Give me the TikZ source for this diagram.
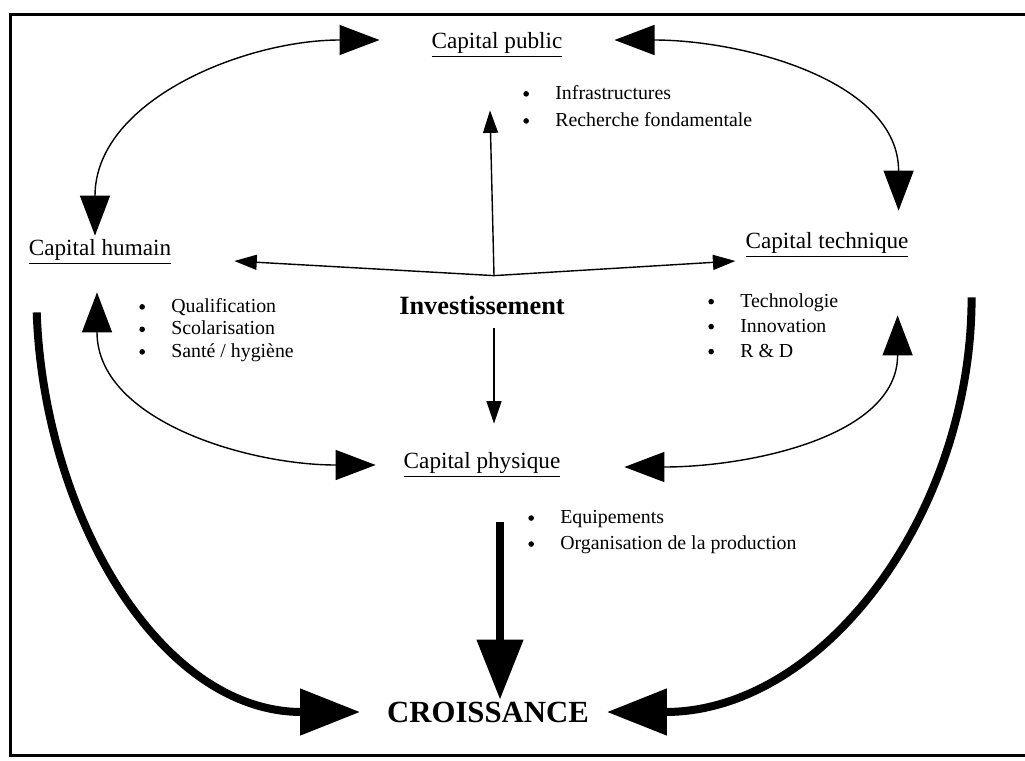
\documentclass[tikz,border=0pt]{standalone}
\usepackage{fontspec}
\setmainfont{Liberation Serif}
\usetikzlibrary{arrows.meta, calc, positioning}
\tikzset{
    capital/.style={
        font=\fontsize{13.2}{15}\selectfont,
        inner sep=1pt
    },
    items/.style={
        anchor=north west,
        align=left,
        inner sep=0pt,
        font=\fontsize{11.3}{#1}\selectfont
    },
    items/.default=15pt,
    link/.style={
        line width=0.8pt,
        {Triangle[length=8mm,width=6mm]}-{Triangle[length=8mm,width=6mm]}
    },
    invest/.style={
        line width=0.8pt,
        -{Triangle[length=4.5mm,width=3mm]}
    },
    growth/.style={
        line width=1.6mm,
        -{Triangle[length=12mm,width=9mm]}
    },
    frame/.style={
        line width=0.6mm
    }
}
\newcommand{\itm}[1]{\makebox[6.4mm][l]{\tikz[baseline=-0.6ex]\fill (0,0) circle (1.6pt);}#1}

\begin{document}
\begin{tikzpicture}[x=0.2mm, y=-0.2mm]
\useasboundingbox (0,0) rectangle (1025,760);
\draw[frame] (1025,14) -- (10,14) -- (10,755) -- (1025,755);

\node[capital] (pub) at (497,45) {\underline{Capital public}};
\node[capital] (hum) at (100,252) {\underline{Capital humain}};
\node[capital] (tech) at (827,245) {\underline{Capital technique}};
\node[capital] (phys) at (482,465) {\underline{Capital physique}};
\node[inner sep=1pt, font=\fontsize{15}{18}\selectfont\bfseries] (inv) at (482,305) {Investissement};
\node[inner sep=1pt, font=\fontsize{17.5}{20}\selectfont\bfseries] (croi) at (488,712) {CROISSANCE};

% listes
\node[items=15.4pt] (pubitems) at (523,85) {\itm{Infrastructures}\\\itm{Recherche fondamentale}};
\node[items=12.8pt] (humitems) at (139,298) {\itm{Qualification}\\\itm{Scolarisation}\\\itm{Santé / hygiène}};
\node[items=14.2pt] (techitems) at (708,293) {\itm{Technologie}\\\itm{Innovation}\\\itm{R \& D}};
\node[items=14.8pt] (physitems) at (528,510) {\itm{Equipements}\\\itm{Organisation de la production}};

% liens entre capitaux
\draw[link] ($(pub.west)+(-50,-5)$) to[out=180, in=90] ($(hum.north)+(-5,-2)$);
\draw[link] ($(pub.east)+(50,-5)$) to[out=0, in=90] ($(tech.north east)+(-12,-20)$);
\draw[link] ($(hum.south)+(-3,26)$) to[out=-90, in=180] ($(phys.west)+(-26,0)$);
\draw[link] ($(tech.south east)+(-13,56)$) to[out=-90, in=0] ($(phys.east)+(62,2)$);

% investissement
\coordinate (hub) at ($(inv.north)+(12,-18)$);
\draw[invest] (hub) -- ($(pub.south)+(-7,51)$);
\draw[invest] (hub) -- ($(hum.east)+(61,9)$);
\draw[invest] (hub) -- ($(tech.west)+(-8,16)$);
\draw[invest] ($(inv.south)+(12,12)$) -- ($(phys.north)+(12,-27)$);

% croissance
\coordinate (physfoot) at ($(phys.south)+(18,43)$);
\draw[growth] (physfoot) -- (physfoot |- croi.north);
\draw[growth] ($(hum.south west)+(10,46)$) to[out=-88, in=180] ($(croi.west)+(-25,0)$);
\draw[growth] ($(tech.south east)+(61,38)$) to[out=-90, in=0] ($(croi.east)+(16,0)$);

\end{tikzpicture}
\end{document}
